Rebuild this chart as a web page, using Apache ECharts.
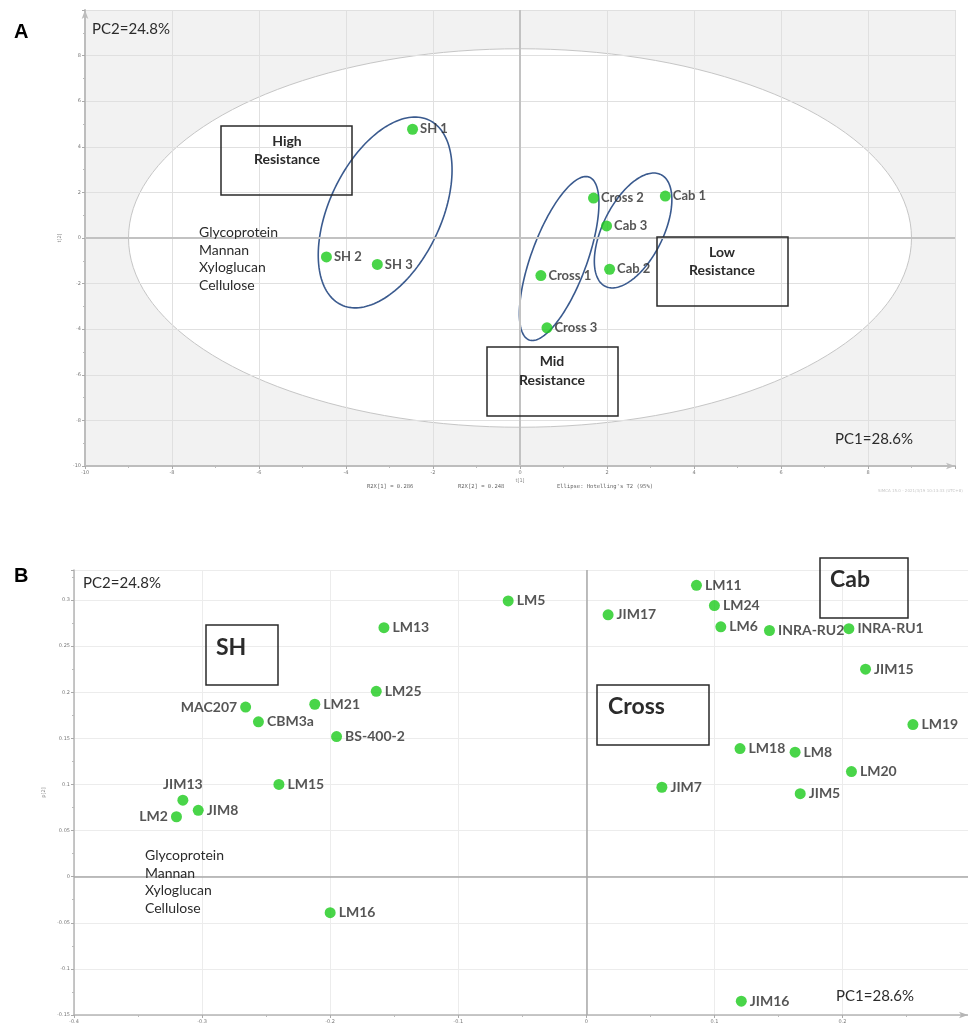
<!DOCTYPE html>
<html>
<head>
<meta charset="utf-8">
<script src="https://cdn.jsdelivr.net/npm/echarts@6/dist/echarts.min.js"></script>
<style>
html, body { margin: 0; padding: 0; background: #fff; }
#chart { width: 968px; height: 1024px; }
</style>
</head>
<body>
<div id="chart"></div>
<script>
// ---- Panel A: PCA scores t[1] / t[2] ----
const scoreNames = ['SH 1', 'SH 2', 'SH 3', 'Cross 1', 'Cross 2', 'Cross 3', 'Cab 1', 'Cab 2', 'Cab 3'];
const scoreT1 = [-2.47, -4.45, -3.28, 0.48, 1.69, 0.62, 3.34, 2.06, 1.99];
const scoreT2 = [4.77, -0.83, -1.16, -1.65, 1.75, -3.94, 1.84, -1.37, 0.53];

// Hotelling's T2 (95%) ellipse semi-axes, in score units
const hotellingT1 = 9.0;
const hotellingT2 = 8.3;

// Group ellipses: centre plus two conjugate semi-axis vectors, in score units
const groupNames = ['SH', 'Cross', 'Cab'];
const groupCenterT1 = [-3.10, 0.90, 2.60];
const groupCenterT2 = [1.12, -0.90, 0.33];
const groupMajorT1 = [1.01, 0.69, 0.64];
const groupMajorT2 = [4.05, 3.57, 2.45];
const groupMinorT1 = [1.16, 0.60, 0.62];
const groupMinorT2 = [-1.05, -0.42, -0.59];

// ---- Panel B: loadings p[1] / p[2] ----
const loadingNames = ['LM5', 'LM13', 'LM25', 'LM21', 'MAC207', 'CBM3a', 'BS-400-2', 'LM15', 'JIM13', 'JIM8', 'LM2', 'LM16',
  'LM11', 'LM24', 'JIM17', 'LM6', 'INRA-RU2', 'INRA-RU1', 'JIM15', 'LM19', 'LM18', 'LM8', 'LM20', 'JIM7', 'JIM5', 'JIM16'];
const loadingP1 = [-0.061, -0.158, -0.164, -0.212, -0.266, -0.256, -0.195, -0.240, -0.315, -0.303, -0.320, -0.200,
  0.086, 0.100, 0.017, 0.105, 0.143, 0.205, 0.218, 0.255, 0.120, 0.163, 0.207, 0.059, 0.167, 0.121];
const loadingP2 = [0.299, 0.270, 0.201, 0.187, 0.184, 0.168, 0.152, 0.100, 0.083, 0.072, 0.065, -0.039,
  0.316, 0.294, 0.284, 0.271, 0.267, 0.269, 0.225, 0.165, 0.139, 0.135, 0.114, 0.097, 0.090, -0.135];

// Axis tick settings
const scoreMin = -10, scoreMax = 10, scoreStep = 2;
const p1Min = -0.4, p1Max = 0.298, p1Step = 0.1;
const p2Min = -0.15, p2Max = 0.3326, p2Step = 0.05;

const GREEN = '#1ccb1c';
const INK = '#2b2b2b';
const LABEL_FONT = 'Lato, "Open Sans", sans-serif';
const leftLabels = new Set(['MAC207', 'LM2']);
const topLabels = new Set(['JIM13']);

function ellipsePoints(api, cx, cy, px, py, qx, qy) {
  const pts = [];
  const n = 160;
  for (let i = 0; i <= n; i++) {
    const t = (i / n) * Math.PI * 2;
    const c = Math.cos(t), s = Math.sin(t);
    pts.push(api.coord([cx + px * c + qx * s, cy + py * c + qy * s]));
  }
  return pts;
}

function tinyAxis(common) {
  return Object.assign({
    type: 'value',
    axisTick: { show: true, length: 3, inside: false, lineStyle: { color: '#aaa', width: 1 } },
    minorTick: { show: true, splitNumber: 2, length: 2, lineStyle: { color: '#bbb' } },
    axisLabel: { fontSize: 5, color: '#777', margin: 4, showMaxLabel: false, fontFamily: 'DejaVu Sans' },
    nameTextStyle: { fontSize: 5, color: '#888', fontFamily: 'DejaVu Sans' }
  }, common);
}

function text(x, y, str, opts) {
  const st = Object.assign({
    text: str,
    fill: INK,
    font: '14px ' + LABEL_FONT,
    align: 'left', textAlign: 'left',
    verticalAlign: 'middle', textVerticalAlign: 'middle'
  }, opts || {});
  return { type: 'text', x: x, y: y, z: 50, silent: true, style: st };
}

function box(x1, y1, x2, y2) {
  return { type: 'rect', z: 50, silent: true, shape: { x: x1, y: y1, width: x2 - x1, height: y2 - y1 },
    style: { fill: 'none', stroke: '#2a2a2a', lineWidth: 1.5 } };
}

const chart = echarts.init(document.getElementById('chart'), null, { renderer: 'canvas' });

const option = {
  animation: false,
  backgroundColor: '#fff',
  grid: [
    { left: 85, top: 10, right: 13, height: 456, outerBoundsMode: 'none', containLabel: false },
    { left: 74, top: 570, right: 0, height: 445, outerBoundsMode: 'none', containLabel: false }
  ],
  xAxis: [
    tinyAxis({
      gridIndex: 0, min: scoreMin, max: scoreMax, interval: scoreStep,
      name: 't[1]', nameLocation: 'middle', nameGap: 12,
      axisLine: { show: true, onZero: false, symbol: ['none', 'arrow'], symbolSize: [5, 9],
        lineStyle: { color: '#bdbdbd', width: 2 } },
      splitLine: { show: true, lineStyle: { color: '#e0e0e0', width: 1 } }
    }),
    tinyAxis({
      gridIndex: 1, min: p1Min, max: p1Max, interval: p1Step,
      axisLine: { show: true, onZero: false, symbol: ['none', 'arrow'], symbolSize: [5, 9],
        lineStyle: { color: '#b5b5b5', width: 1.5 } },
      axisLabel: { fontSize: 5, color: '#777', margin: 4, showMaxLabel: false, fontFamily: 'DejaVu Sans',
        formatter: v => String(+v.toFixed(3)) },
      splitLine: { show: true, lineStyle: { color: '#ececec', width: 1 } }
    })
  ],
  yAxis: [
    tinyAxis({
      gridIndex: 0, min: scoreMin, max: scoreMax, interval: scoreStep,
      name: 't[2]', nameLocation: 'middle', nameGap: 16, nameRotate: 90,
      axisLine: { show: true, onZero: false, symbol: ['none', 'arrow'], symbolSize: [5, 9],
        lineStyle: { color: '#bdbdbd', width: 2 } },
      splitLine: { show: true, lineStyle: { color: '#e0e0e0', width: 1 } }
    }),
    tinyAxis({
      gridIndex: 1, min: p2Min, max: p2Max, interval: p2Step,
      name: 'p[2]', nameLocation: 'middle', nameGap: 21, nameRotate: 90,
      axisLine: { show: true, onZero: false, lineStyle: { color: '#b5b5b5', width: 1.5 } },
      axisLabel: { fontSize: 5, color: '#777', margin: 4, showMaxLabel: false, fontFamily: 'DejaVu Sans',
        formatter: v => String(+v.toFixed(3)) },
      splitLine: { show: true, lineStyle: { color: '#ececec', width: 1 } }
    })
  ],
  series: [
    // Plot background with the Hotelling's T2 ellipse cut out in white
    {
      type: 'custom', xAxisIndex: 0, yAxisIndex: 0, z: -1, silent: true,
      data: [[0, 0]],
      encode: { x: 0, y: 1 },
      renderItem: function (params, api) {
        const cs = params.coordSys;
        const pts = ellipsePoints(api, api.value(0), api.value(1), hotellingT1, 0, 0, hotellingT2);
        return {
          type: 'group',
          children: [
            { type: 'rect', shape: { x: cs.x, y: cs.y, width: cs.width, height: cs.height }, style: { fill: '#f2f2f2' } },
            { type: 'polygon', shape: { points: pts }, style: { fill: '#ffffff', stroke: '#c6c6c6', lineWidth: 1 } }
          ]
        };
      }
    },
    // Group ellipses + zero lines
    {
      type: 'custom', xAxisIndex: 0, yAxisIndex: 0, z: 1, silent: true,
      data: groupNames.map((n, i) => ({
        name: n,
        value: [groupCenterT1[i], groupCenterT2[i], groupMajorT1[i], groupMajorT2[i], groupMinorT1[i], groupMinorT2[i]]
      })),
      encode: { x: 0, y: 1 },
      renderItem: function (params, api) {
        const pts = ellipsePoints(api, api.value(0), api.value(1), api.value(2), api.value(3), api.value(4), api.value(5));
        return { type: 'polygon', shape: { points: pts }, style: { fill: 'none', stroke: '#3a5a8e', lineWidth: 1.6 } };
      },
      markLine: {
        silent: true, symbol: 'none', animation: false,
        label: { show: false },
        lineStyle: { color: '#c2c2c2', width: 2, type: 'solid' },
        data: [{ xAxis: 0 }, { yAxis: 0 }]
      }
    },
    // Score points
    {
      type: 'scatter', xAxisIndex: 0, yAxisIndex: 0, z: 3,
      symbolSize: 11,
      itemStyle: { color: GREEN },
      data: scoreNames.map((n, i) => ({ name: n, value: [scoreT1[i], scoreT2[i]] })),
      label: { show: true, position: 'right', distance: 2, formatter: '{b}',
        fontFamily: LABEL_FONT, fontWeight: 'bold', fontSize: 13, color: INK }
    },
    // Loading points
    {
      type: 'scatter', xAxisIndex: 1, yAxisIndex: 1, z: 3,
      symbolSize: 11,
      itemStyle: { color: GREEN },
      data: loadingNames.map((n, i) => ({
        name: n,
        value: [loadingP1[i], loadingP2[i]],
        label: { position: leftLabels.has(n) ? 'left' : (topLabels.has(n) ? 'top' : 'right') }
      })),
      label: { show: true, position: 'right', distance: 3, formatter: '{b}',
        fontFamily: LABEL_FONT, fontWeight: 'bold', fontSize: 14, color: INK },
      markLine: {
        silent: true, symbol: 'none', animation: false,
        label: { show: false },
        lineStyle: { color: '#a8a8a8', width: 1.5, type: 'solid' },
        data: [{ xAxis: 0 }, { yAxis: 0 }]
      }
    }
  ],
  graphic: {
    elements: [
      // Panel letters
      text(14, 32, 'A', { font: 'bold 20px "Liberation Sans", Arial, sans-serif', fill: '#000' }),
      text(14, 576, 'B', { font: 'bold 20px "Liberation Sans", Arial, sans-serif', fill: '#000' }),

      // Panel A annotations
      text(92, 29, 'PC2=24.8%', { font: '15px ' + LABEL_FONT }),
      text(835, 439, 'PC1=28.6%', { font: '15px ' + LABEL_FONT }),
      text(199, 259, 'Glycoprotein\nMannan\nXyloglucan\nCellulose', { font: '14px ' + LABEL_FONT, lineHeight: 17.4 }),
      box(221, 126, 352, 195),
      text(287, 141, 'High', { font: 'bold 14px ' + LABEL_FONT, align: 'center', textAlign: 'center' }),
      text(287, 159, 'Resistance', { font: 'bold 14px ' + LABEL_FONT, align: 'center', textAlign: 'center' }),
      box(657, 237, 788, 306),
      text(722, 252, 'Low', { font: 'bold 14px ' + LABEL_FONT, align: 'center', textAlign: 'center' }),
      text(722, 270, 'Resistance', { font: 'bold 14px ' + LABEL_FONT, align: 'center', textAlign: 'center' }),
      box(487, 347, 618, 416),
      text(552, 361, 'Mid', { font: 'bold 14px ' + LABEL_FONT, align: 'center', textAlign: 'center' }),
      text(552, 380, 'Resistance', { font: 'bold 14px ' + LABEL_FONT, align: 'center', textAlign: 'center' }),
      text(367, 487, 'R2X[1] = 0.286', { font: '5.5px "DejaVu Sans Mono", monospace', fill: '#666' }),
      text(458, 487, 'R2X[2] = 0.248', { font: '5.5px "DejaVu Sans Mono", monospace', fill: '#666' }),
      text(557, 487, "Ellipse: Hotelling's T2 (95%)", { font: '5.5px "DejaVu Sans Mono", monospace', fill: '#666' }),
      text(878, 491, 'SIMCA 15.0 - 2021/3/19 10:13:33 (UTC+8)', { font: '4px "DejaVu Sans", sans-serif', fill: '#c8c8c8' }),

      // Panel B annotations
      text(83, 583, 'PC2=24.8%', { font: '15px ' + LABEL_FONT }),
      text(836, 996, 'PC1=28.6%', { font: '15px ' + LABEL_FONT }),
      text(145, 882, 'Glycoprotein\nMannan\nXyloglucan\nCellulose', { font: '14px ' + LABEL_FONT, lineHeight: 17.4 }),
      box(206, 625, 278, 685),
      text(216, 648, 'SH', { font: 'bold 23px ' + LABEL_FONT }),
      box(820, 558, 908, 618),
      text(830, 580, 'Cab', { font: 'bold 23px ' + LABEL_FONT }),
      box(597, 685, 709, 745),
      text(608, 707, 'Cross', { font: 'bold 23px ' + LABEL_FONT })
    ]
  }
};

chart.setOption(option);
</script>
</body>
</html>
